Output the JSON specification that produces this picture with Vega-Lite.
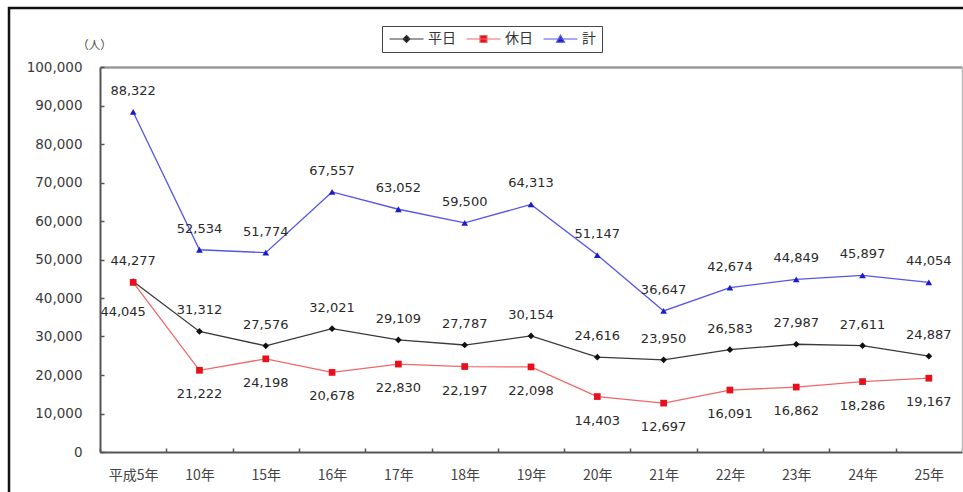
{
  "$schema": "https://vega.github.io/schema/vega-lite/v6.json",
  "width": 960,
  "height": 490,
  "autosize": {"type": "none"},
  "padding": {"left": 9, "top": 8, "right": 0, "bottom": 0},
  "background": "#ffffff",
  "config": {
    "font": "DejaVu Sans",
    "view": {"stroke": "#111111", "strokeWidth": 2.5}
  },
  "data": {
    "values": [
      {"year": "平成5年", "series": "平日", "value": 44277},
      {"year": "10年", "series": "平日", "value": 31312},
      {"year": "15年", "series": "平日", "value": 27576},
      {"year": "16年", "series": "平日", "value": 32021},
      {"year": "17年", "series": "平日", "value": 29109},
      {"year": "18年", "series": "平日", "value": 27787},
      {"year": "19年", "series": "平日", "value": 30154},
      {"year": "20年", "series": "平日", "value": 24616},
      {"year": "21年", "series": "平日", "value": 23950},
      {"year": "22年", "series": "平日", "value": 26583},
      {"year": "23年", "series": "平日", "value": 27987},
      {"year": "24年", "series": "平日", "value": 27611},
      {"year": "25年", "series": "平日", "value": 24887},
      {"year": "平成5年", "series": "休日", "value": 44045},
      {"year": "10年", "series": "休日", "value": 21222},
      {"year": "15年", "series": "休日", "value": 24198},
      {"year": "16年", "series": "休日", "value": 20678},
      {"year": "17年", "series": "休日", "value": 22830},
      {"year": "18年", "series": "休日", "value": 22197},
      {"year": "19年", "series": "休日", "value": 22098},
      {"year": "20年", "series": "休日", "value": 14403},
      {"year": "21年", "series": "休日", "value": 12697},
      {"year": "22年", "series": "休日", "value": 16091},
      {"year": "23年", "series": "休日", "value": 16862},
      {"year": "24年", "series": "休日", "value": 18286},
      {"year": "25年", "series": "休日", "value": 19167},
      {"year": "平成5年", "series": "計", "value": 88322},
      {"year": "10年", "series": "計", "value": 52534},
      {"year": "15年", "series": "計", "value": 51774},
      {"year": "16年", "series": "計", "value": 67557},
      {"year": "17年", "series": "計", "value": 63052},
      {"year": "18年", "series": "計", "value": 59500},
      {"year": "19年", "series": "計", "value": 64313},
      {"year": "20年", "series": "計", "value": 51147},
      {"year": "21年", "series": "計", "value": 36647},
      {"year": "22年", "series": "計", "value": 42674},
      {"year": "23年", "series": "計", "value": 44849},
      {"year": "24年", "series": "計", "value": 45897},
      {"year": "25年", "series": "計", "value": 44054}
    ]
  },
  "resolve": {
    "axis": {"x": "independent", "y": "independent"},
    "scale": {"shape": "independent", "fill": "independent", "stroke": "independent"},
    "legend": {"shape": "independent", "fill": "independent", "stroke": "independent"}
  },
  "layer": [
    {
      "mark": {"type": "line", "strokeWidth": 1.3},
      "encoding": {
        "x": {
          "field": "year", "type": "nominal",
          "sort": ["平成5年", "10年", "15年", "16年", "17年", "18年", "19年", "20年", "21年", "22年", "23年", "24年", "25年"],
          "scale": {"type": "band", "range": [91, 953], "paddingInner": 0, "paddingOuter": 0},
          "axis": {
            "orient": "bottom", "offset": -46, "title": null,
            "tickBand": "extent", "tickSize": -4, "tickColor": "#555555", "tickWidth": 1.5,
            "domainColor": "#555555", "domainWidth": 2,
            "labelAngle": 0, "labelPadding": 20,
            "labelFont": "Noto Sans CJK JP", "labelFontSize": 14, "labelColor": "#444444"
          }
        },
        "y": {
          "field": "value", "type": "quantitative",
          "scale": {"domain": [0, 100000], "range": [444, 59], "nice": false, "zero": true},
          "axis": {
            "orient": "left", "offset": -91, "grid": false,
            "values": [0, 10000, 20000, 30000, 40000, 50000, 60000, 70000, 80000, 90000, 100000],
            "labelExpr": "format(datum.value, ',')",
            "tickSize": -4, "tickColor": "#555555", "tickWidth": 1.5,
            "domainColor": "#555555", "domainWidth": 2,
            "labelFont": "DejaVu Sans", "labelFontSize": 13.5, "labelColor": "#3a3a3a", "labelPadding": 22,
            "title": "（人）", "titleAngle": 0, "titleX": -6, "titleY": 37,
            "titleAlign": "center", "titleBaseline": "middle",
            "titleFont": "Noto Sans CJK JP", "titleFontSize": 11.5, "titleFontWeight": "normal", "titleColor": "#444444"
          }
        },
        "color": {
          "field": "series", "type": "nominal",
          "scale": {"domain": ["平日", "休日", "計"], "range": ["#3a3a3a", "#f06868", "#5555e6"]},
          "legend": null
        }
      }
    },
    {
      "mark": {"type": "point", "filled": true, "opacity": 1, "size": 45},
      "encoding": {
        "x": {
          "field": "year", "type": "nominal",
          "sort": ["平成5年", "10年", "15年", "16年", "17年", "18年", "19年", "20年", "21年", "22年", "23年", "24年", "25年"],
          "axis": null
        },
        "y": {"field": "value", "type": "quantitative", "axis": null},
        "fill": {
          "field": "series", "type": "nominal",
          "scale": {"domain": ["平日", "休日", "計"], "range": ["#111111", "#e8101c", "#1c1cc8"]},
          "legend": null
        },
        "shape": {
          "field": "series", "type": "nominal",
          "scale": {"domain": ["平日", "休日", "計"], "range": ["diamond", "square", "triangle-up"]},
          "legend": null
        }
      }
    },
    {
      "transform": [{"filter": "false"}],
      "mark": {"type": "point", "filled": true, "opacity": 1},
      "encoding": {
        "fill": {
          "field": "series", "type": "nominal",
          "scale": {"domain": ["平日", "休日", "計"], "range": ["#111111", "#e8101c", "#1c1cc8"]}
        },
        "stroke": {
          "field": "series", "type": "nominal",
          "scale": {"domain": ["平日", "休日", "計"], "range": ["#3a3a3a", "#f06868", "#5555e6"]}
        },
        "shape": {
          "field": "series", "type": "nominal",
          "scale": {
            "domain": ["平日", "休日", "計"],
            "range": [
              "M-3.4,0H3.4M0,-0.7L0.7,0L0,0.7L-0.7,0Z",
              "M-3.4,0H3.4M-0.7,-0.7H0.7V0.7H-0.7Z",
              "M-3.4,0H3.4M0,-0.75L0.8,0.65H-0.8Z"
            ]
          },
          "legend": {
            "orient": "none", "legendX": 373, "legendY": 18,
            "direction": "horizontal", "title": null,
            "strokeColor": "#444444", "fillColor": "#ffffff", "padding": 6,
            "symbolSize": 100, "symbolStrokeWidth": 1.2, "symbolOffset": 11.5, "labelOffset": 14.5, "columnPadding": 8,
            "labelFont": "Noto Sans CJK JP", "labelFontSize": 14, "labelColor": "#333333"
          }
        }
      }
    },
    {
      "mark": {
        "type": "text", "font": "DejaVu Sans", "fontSize": 13, "color": "#2a2a2a",
        "dx": {"expr": "datum.year === '平成5年' && datum.series === '休日' ? -10 : 0"},
        "dy": {"expr": "datum.series === '休日' ? (datum.year === '平成5年' ? 30 : 24) : -21"}
      },
      "encoding": {
        "x": {
          "field": "year", "type": "nominal",
          "sort": ["平成5年", "10年", "15年", "16年", "17年", "18年", "19年", "20年", "21年", "22年", "23年", "24年", "25年"],
          "axis": {
            "orient": "top", "offset": -59, "title": null,
            "labels": false, "ticks": false,
            "domainColor": "#999999", "domainWidth": 2.5
          }
        },
        "y": {
          "field": "value", "type": "quantitative",
          "axis": {
            "orient": "right", "offset": -7, "title": null, "grid": false,
            "labels": false, "ticks": false,
            "domainColor": "#bbbbbb", "domainWidth": 1.5
          }
        },
        "text": {"field": "value", "type": "quantitative", "format": ","}
      }
    }
  ]
}
